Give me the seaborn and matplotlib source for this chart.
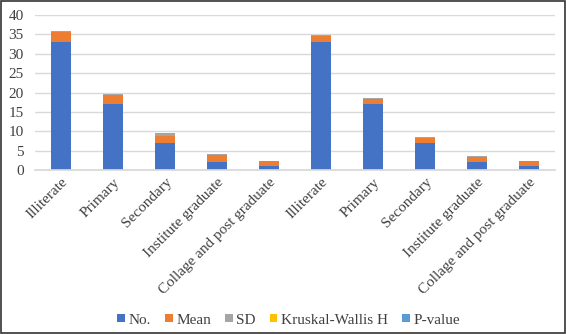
import matplotlib
matplotlib.use("Agg")
import matplotlib.pyplot as plt
import seaborn as sns
import numpy as np
import pandas as pd
from matplotlib.patches import Rectangle

categories = ["Illiterate", "Primary", "Secondary", "Institute graduate", "Collage and post graduate",
              "Illiterate", "Primary", "Secondary", "Institute graduate", "Collage and post graduate"]
no_vals = [33, 17, 7, 2, 1, 33, 17, 7, 2, 1]
mean_vals = [2.5, 2.4, 1.8, 1.9, 1.2, 1.7, 1.4, 1.3, 1.3, 1.2]
sd_vals = [0.4, 0.25, 0.7, 0.15, 0.1, 0.05, 0.25, 0.2, 0.3, 0.1]
kw_vals = [0, 0, 0, 0, 0, 0, 0, 0, 0, 0]
p_vals = [0, 0, 0, 0, 0, 0, 0, 0, 0, 0]

series_names = ["No.", "Mean", "SD", "Kruskal-Wallis H", "P-value"]
series_vals = [no_vals, mean_vals, sd_vals, kw_vals, p_vals]
colors = ["#4472C4", "#ED7D31", "#A5A5A5", "#FFC000", "#5B9BD5"]

sns.set_theme(style="white")
plt.rcParams["font.family"] = ["Liberation Serif", "DejaVu Serif"]

fig = plt.figure(figsize=(5.66, 3.34), dpi=100)
ax = fig.add_axes([35/566, 1-170/334, 520/566, 155/334])

keys = [f"c{i}" for i in range(len(categories))]
bottom = np.zeros(len(keys))
for name, vals, col in zip(series_names, series_vals, colors):
    df = pd.DataFrame({"key": keys, "val": vals})
    sns.barplot(data=df, x="key", y="val", order=keys, color=col, width=0.4,
                bottom=bottom, ax=ax, label=name, saturation=1, linewidth=0)
    bottom = bottom + np.array(vals)

handles, labels = ax.get_legend_handles_labels()
if ax.get_legend() is not None:
    ax.get_legend().remove()

ax.set_ylim(0, 40)
ax.set_xlim(-0.5, 9.5)
ax.set_yticks(range(0, 41, 5))
ax.yaxis.grid(True, color="#D9D9D9", linewidth=1)
ax.set_axisbelow(True)
for s in ["top", "right", "left"]:
    ax.spines[s].set_visible(False)
ax.spines["bottom"].set_color("#D9D9D9")
ax.set_xlabel("")
ax.set_ylabel("")
ax.set_xticks(range(len(categories)))
ax.set_xticklabels(categories, rotation=45, ha="right", rotation_mode="anchor", fontsize=11, color="#404040")
ax.tick_params(axis="y", labelsize=11, colors="#404040", length=0, pad=8)
ax.tick_params(axis="x", length=0, pad=4)

leg = fig.legend(handles, labels, loc="center", bbox_to_anchor=(0.51, 1-320/334), ncol=5,
                 frameon=False, fontsize=11, handlelength=0.5, handleheight=0.5,
                 handletextpad=0.25, columnspacing=0.9)
for t in leg.get_texts():
    t.set_color("#404040")

fig.patches.append(Rectangle((0.002, 0.003), 0.996, 0.994, transform=fig.transFigure,
                             fill=False, edgecolor="#333333", linewidth=1.2))
fig.savefig("out.png", dpi=100)
